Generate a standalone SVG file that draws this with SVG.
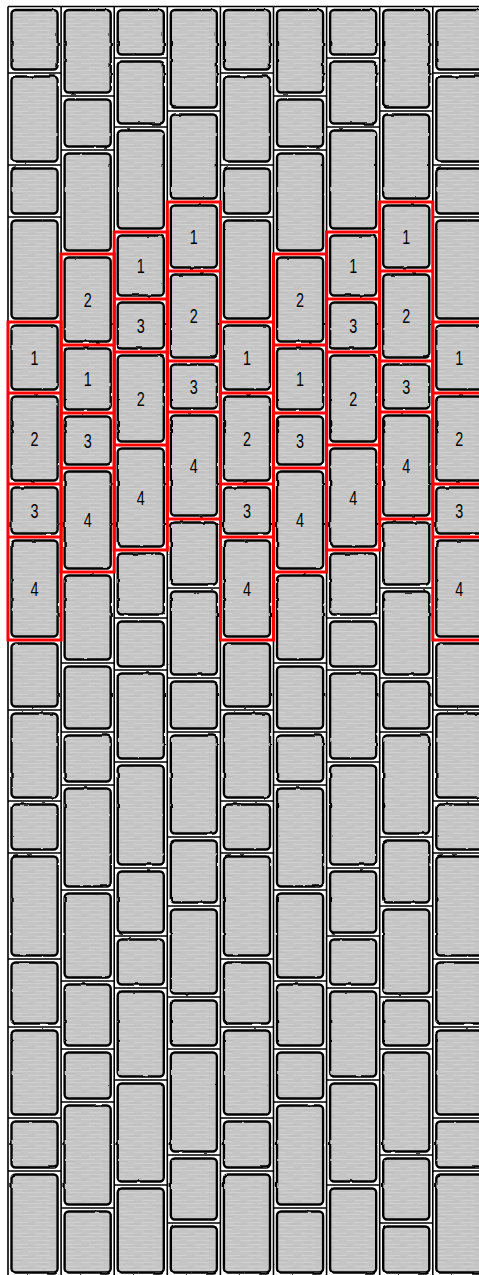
<svg xmlns="http://www.w3.org/2000/svg" width="479" height="1275" viewBox="0 0 479 1275">
<style>
.gr{fill:none;stroke:#000;stroke-width:1.6}
.rd{fill:none;stroke:#ff0000;stroke-width:3;stroke-linejoin:miter}
.fill{fill:url(#tex)}
.ol{fill:none;stroke:#000;stroke-width:2.4}
.n{font-family:"Liberation Sans",Arial,sans-serif;font-size:20px;fill:#000;text-anchor:middle}
</style>
<defs>
<pattern id="tex" width="53" height="11" patternUnits="userSpaceOnUse">
<rect width="53" height="11" fill="#c5c5c5"/>
<path d="M2 1.5h18M28 1.5h14M8 4.5h26M38 4.5h10M0 8.5h12M20 8.5h22" stroke="#d0d0d0" stroke-width="1"/>
<path d="M14 3h12M40 6.5h8M4 6.5h10M30 10h8" stroke="#bebebe" stroke-width="1"/>
</pattern>
<filter id="wob" x="-8%" y="-2%" width="116%" height="104%">
<feTurbulence type="fractalNoise" baseFrequency="0.1" numOctaves="1" seed="4"/>
<feDisplacementMap in="SourceGraphic" scale="2.4" xChannelSelector="R" yChannelSelector="G"/>
</filter>
<g id="pA">
<rect x="3.5" y="10" width="46.1" height="59.5" rx="4"/>
<rect x="3.5" y="76.5" width="46.1" height="85" rx="4"/>
<rect x="3.5" y="168.5" width="46.1" height="45" rx="4"/>
<rect x="3.5" y="220.5" width="46.1" height="98" rx="4"/>
<rect x="3.5" y="325.5" width="46.1" height="64" rx="4"/>
<rect x="3.5" y="396.5" width="46.1" height="84" rx="4"/>
<rect x="3.5" y="487.5" width="46.1" height="46" rx="4"/>
<rect x="3.5" y="540.5" width="46.1" height="96" rx="4"/>
<rect x="3.5" y="643.5" width="46.1" height="63" rx="4"/>
<rect x="3.5" y="713.5" width="46.1" height="84" rx="4"/>
<rect x="3.5" y="804.5" width="46.1" height="45" rx="4"/>
<rect x="3.5" y="856.5" width="46.1" height="99" rx="4"/>
<rect x="3.5" y="962.5" width="46.1" height="61" rx="4"/>
<rect x="3.5" y="1030.5" width="46.1" height="84" rx="4"/>
<rect x="3.5" y="1121.5" width="46.1" height="46" rx="4"/>
<rect x="3.5" y="1174.5" width="46.1" height="98" rx="4"/>
</g>
<g id="pB">
<rect x="3.5" y="10" width="46.1" height="82.5" rx="4"/>
<rect x="3.5" y="99.5" width="46.1" height="47" rx="4"/>
<rect x="3.5" y="153.5" width="46.1" height="97" rx="4"/>
<rect x="3.5" y="257.5" width="46.1" height="84" rx="4"/>
<rect x="3.5" y="348.5" width="46.1" height="61" rx="4"/>
<rect x="3.5" y="416.5" width="46.1" height="48" rx="4"/>
<rect x="3.5" y="471.5" width="46.1" height="97" rx="4"/>
<rect x="3.5" y="575.5" width="46.1" height="84" rx="4"/>
<rect x="3.5" y="666.5" width="46.1" height="62" rx="4"/>
<rect x="3.5" y="735.5" width="46.1" height="46" rx="4"/>
<rect x="3.5" y="788.5" width="46.1" height="98" rx="4"/>
<rect x="3.5" y="893.5" width="46.1" height="84" rx="4"/>
<rect x="3.5" y="984.5" width="46.1" height="61" rx="4"/>
<rect x="3.5" y="1052.5" width="46.1" height="46" rx="4"/>
<rect x="3.5" y="1105.5" width="46.1" height="99" rx="4"/>
<rect x="3.5" y="1211.5" width="46.1" height="61" rx="4"/>
</g>
<g id="pC">
<rect x="3.5" y="10" width="46.1" height="44.5" rx="4"/>
<rect x="3.5" y="61.5" width="46.1" height="62" rx="4"/>
<rect x="3.5" y="130.5" width="46.1" height="98" rx="4"/>
<rect x="3.5" y="235.5" width="46.1" height="60" rx="4"/>
<rect x="3.5" y="302.5" width="46.1" height="46" rx="4"/>
<rect x="3.5" y="355.5" width="46.1" height="86" rx="4"/>
<rect x="3.5" y="448.5" width="46.1" height="98" rx="4"/>
<rect x="3.5" y="553.5" width="46.1" height="61" rx="4"/>
<rect x="3.5" y="621.5" width="46.1" height="45" rx="4"/>
<rect x="3.5" y="673.5" width="46.1" height="85" rx="4"/>
<rect x="3.5" y="765.5" width="46.1" height="99" rx="4"/>
<rect x="3.5" y="871.5" width="46.1" height="61" rx="4"/>
<rect x="3.5" y="939.5" width="46.1" height="45" rx="4"/>
<rect x="3.5" y="991.5" width="46.1" height="85" rx="4"/>
<rect x="3.5" y="1083.5" width="46.1" height="98" rx="4"/>
<rect x="3.5" y="1188.5" width="46.1" height="84" rx="4"/>
</g>
<g id="pD">
<rect x="3.5" y="10" width="46.1" height="97.5" rx="4"/>
<rect x="3.5" y="114.5" width="46.1" height="84" rx="4"/>
<rect x="3.5" y="205.5" width="46.1" height="62" rx="4"/>
<rect x="3.5" y="274.5" width="46.1" height="83" rx="4"/>
<rect x="3.5" y="364.5" width="46.1" height="44" rx="4"/>
<rect x="3.5" y="415.5" width="46.1" height="100" rx="4"/>
<rect x="3.5" y="522.5" width="46.1" height="62" rx="4"/>
<rect x="3.5" y="591.5" width="46.1" height="83" rx="4"/>
<rect x="3.5" y="681.5" width="46.1" height="47" rx="4"/>
<rect x="3.5" y="735.5" width="46.1" height="98" rx="4"/>
<rect x="3.5" y="840.5" width="46.1" height="62" rx="4"/>
<rect x="3.5" y="909.5" width="46.1" height="84" rx="4"/>
<rect x="3.5" y="1000.5" width="46.1" height="45" rx="4"/>
<rect x="3.5" y="1052.5" width="46.1" height="99" rx="4"/>
<rect x="3.5" y="1158.5" width="46.1" height="61" rx="4"/>
<rect x="3.5" y="1226.5" width="46.1" height="46" rx="4"/>
</g>
<g id="colA">
<use href="#pA" class="fill"/>
<use href="#pA" class="ol" filter="url(#wob)"/>
<path class="gr" d="M0 6.5V1276M0 6.5H53.1M0 73H53.1M0 165H53.1M0 217H53.1M0 322H53.1M0 393H53.1M0 484H53.1M0 537H53.1M0 640H53.1M0 710H53.1M0 801H53.1M0 853H53.1M0 959H53.1M0 1027H53.1M0 1118H53.1M0 1171H53.1"/>
</g>
<g id="colB">
<use href="#pB" class="fill"/>
<use href="#pB" class="ol" filter="url(#wob)"/>
<path class="gr" d="M0 6.5V1276M0 6.5H53.1M0 96H53.1M0 150H53.1M0 254H53.1M0 345H53.1M0 413H53.1M0 468H53.1M0 572H53.1M0 663H53.1M0 732H53.1M0 785H53.1M0 890H53.1M0 981H53.1M0 1049H53.1M0 1102H53.1M0 1208H53.1"/>
</g>
<g id="colC">
<use href="#pC" class="fill"/>
<use href="#pC" class="ol" filter="url(#wob)"/>
<path class="gr" d="M0 6.5V1276M0 6.5H53.1M0 58H53.1M0 127H53.1M0 232H53.1M0 299H53.1M0 352H53.1M0 445H53.1M0 550H53.1M0 618H53.1M0 670H53.1M0 762H53.1M0 868H53.1M0 936H53.1M0 988H53.1M0 1080H53.1M0 1185H53.1"/>
</g>
<g id="colD">
<use href="#pD" class="fill"/>
<use href="#pD" class="ol" filter="url(#wob)"/>
<path class="gr" d="M0 6.5V1276M0 6.5H53.1M0 111H53.1M0 202H53.1M0 271H53.1M0 361H53.1M0 412H53.1M0 519H53.1M0 588H53.1M0 678H53.1M0 732H53.1M0 837H53.1M0 906H53.1M0 997H53.1M0 1049H53.1M0 1155H53.1M0 1223H53.1"/>
</g>
<path id="rA" class="rd" d="M0 322H53.1V640H0ZM0 393H53.1M0 484H53.1M0 537H53.1"/>
<path id="rB" class="rd" d="M0 254H53.1V572H0ZM0 345H53.1M0 413H53.1M0 468H53.1"/>
<path id="rC" class="rd" d="M0 232H53.1V550H0ZM0 299H53.1M0 352H53.1M0 445H53.1"/>
<path id="rD" class="rd" d="M0 202H53.1V519H0ZM0 271H53.1M0 361H53.1M0 412H53.1"/>
</defs>
<rect width="479" height="1275" fill="#fff"/>
<g id="columns">
<use id="col1" href="#colA" x="8"/>
<use id="col2" href="#colB" x="61.1"/>
<use id="col3" href="#colC" x="114.2"/>
<use id="col4" href="#colD" x="167.3"/>
<use id="col5" href="#colA" x="220.4"/>
<use id="col6" href="#colB" x="273.5"/>
<use id="col7" href="#colC" x="326.6"/>
<use id="col8" href="#colD" x="379.7"/>
<use id="col9" href="#colA" x="432.8"/>
</g>
<g id="red-outlines">
<use href="#rA" x="8"/>
<use href="#rB" x="61.1"/>
<use href="#rC" x="114.2"/>
<use href="#rD" x="167.3"/>
<use href="#rA" x="220.4"/>
<use href="#rB" x="273.5"/>
<use href="#rC" x="326.6"/>
<use href="#rD" x="379.7"/>
<use href="#rA" x="432.8"/>
</g>
<g id="labels" class="n">
<text x="34.55" y="364.5" textLength="8" lengthAdjust="spacingAndGlyphs">1</text>
<text x="34.55" y="445.5" textLength="8" lengthAdjust="spacingAndGlyphs">2</text>
<text x="34.55" y="517.5" textLength="8" lengthAdjust="spacingAndGlyphs">3</text>
<text x="34.55" y="595.5" textLength="8" lengthAdjust="spacingAndGlyphs">4</text>
<text x="87.65" y="306.5" textLength="8" lengthAdjust="spacingAndGlyphs">2</text>
<text x="87.65" y="386" textLength="8" lengthAdjust="spacingAndGlyphs">1</text>
<text x="87.65" y="447.5" textLength="8" lengthAdjust="spacingAndGlyphs">3</text>
<text x="87.65" y="527" textLength="8" lengthAdjust="spacingAndGlyphs">4</text>
<text x="140.75" y="272.5" textLength="8" lengthAdjust="spacingAndGlyphs">1</text>
<text x="140.75" y="332.5" textLength="8" lengthAdjust="spacingAndGlyphs">3</text>
<text x="140.75" y="405.5" textLength="8" lengthAdjust="spacingAndGlyphs">2</text>
<text x="140.75" y="504.5" textLength="8" lengthAdjust="spacingAndGlyphs">4</text>
<text x="193.85" y="243.5" textLength="8" lengthAdjust="spacingAndGlyphs">1</text>
<text x="193.85" y="323" textLength="8" lengthAdjust="spacingAndGlyphs">2</text>
<text x="193.85" y="393.5" textLength="8" lengthAdjust="spacingAndGlyphs">3</text>
<text x="193.85" y="472.5" textLength="8" lengthAdjust="spacingAndGlyphs">4</text>
<text x="246.95" y="364.5" textLength="8" lengthAdjust="spacingAndGlyphs">1</text>
<text x="246.95" y="445.5" textLength="8" lengthAdjust="spacingAndGlyphs">2</text>
<text x="246.95" y="517.5" textLength="8" lengthAdjust="spacingAndGlyphs">3</text>
<text x="246.95" y="595.5" textLength="8" lengthAdjust="spacingAndGlyphs">4</text>
<text x="300.05" y="306.5" textLength="8" lengthAdjust="spacingAndGlyphs">2</text>
<text x="300.05" y="386" textLength="8" lengthAdjust="spacingAndGlyphs">1</text>
<text x="300.05" y="447.5" textLength="8" lengthAdjust="spacingAndGlyphs">3</text>
<text x="300.05" y="527" textLength="8" lengthAdjust="spacingAndGlyphs">4</text>
<text x="353.15" y="272.5" textLength="8" lengthAdjust="spacingAndGlyphs">1</text>
<text x="353.15" y="332.5" textLength="8" lengthAdjust="spacingAndGlyphs">3</text>
<text x="353.15" y="405.5" textLength="8" lengthAdjust="spacingAndGlyphs">2</text>
<text x="353.15" y="504.5" textLength="8" lengthAdjust="spacingAndGlyphs">4</text>
<text x="406.25" y="243.5" textLength="8" lengthAdjust="spacingAndGlyphs">1</text>
<text x="406.25" y="323" textLength="8" lengthAdjust="spacingAndGlyphs">2</text>
<text x="406.25" y="393.5" textLength="8" lengthAdjust="spacingAndGlyphs">3</text>
<text x="406.25" y="472.5" textLength="8" lengthAdjust="spacingAndGlyphs">4</text>
<text x="459.35" y="364.5" textLength="8" lengthAdjust="spacingAndGlyphs">1</text>
<text x="459.35" y="445.5" textLength="8" lengthAdjust="spacingAndGlyphs">2</text>
<text x="459.35" y="517.5" textLength="8" lengthAdjust="spacingAndGlyphs">3</text>
<text x="459.35" y="595.5" textLength="8" lengthAdjust="spacingAndGlyphs">4</text>
</g>
</svg>
